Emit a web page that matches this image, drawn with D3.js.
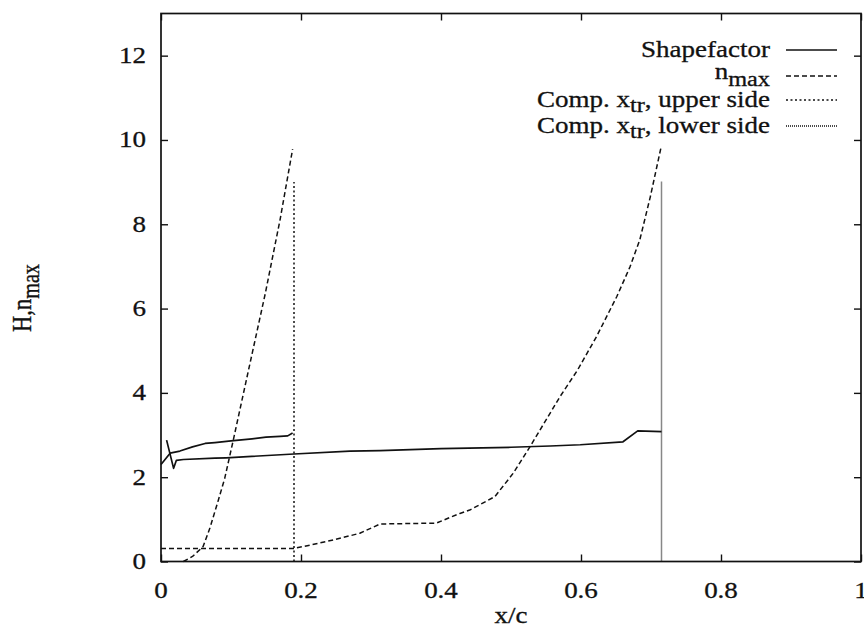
<!DOCTYPE html>
<html>
<head>
<meta charset="utf-8">
<script src="https://cdn.jsdelivr.net/npm/d3@7/dist/d3.min.js"></script>
<style>
  html, body { margin: 0; padding: 0; background: #fff; }
  svg { display: block; }
  text { font-family: "Liberation Serif", "Times New Roman", serif; fill: #111; stroke: #111; stroke-width: 0.3; }
</style>
</head>
<body>
<svg id="chart" width="864" height="627"></svg>
<script>
// ---------------- data ----------------
const xTicks = [0, 0.2, 0.4, 0.6, 0.8, 1];
const xTickLabels = ["0", "0.2", "0.4", "0.6", "0.8", "1"];
const yTicks = [0, 2, 4, 6, 8, 10, 12];
const yTickLabels = ["0", "2", "4", "6", "8", "10", "12"];

// Shape factor H, upper side (ends at upper transition)
const shapeUpperX = [0, 0.013, 0.027, 0.045, 0.063, 0.077, 0.100, 0.130, 0.150, 0.170, 0.181, 0.188];
const shapeUpperY = [2.30, 2.57, 2.62, 2.72, 2.80, 2.82, 2.86, 2.91, 2.95, 2.97, 2.98, 3.05];
// Shape factor H, lower side
const shapeLowerX = [0.008, 0.018, 0.022, 0.032, 0.077, 0.093, 0.190, 0.270, 0.313, 0.400, 0.500, 0.556, 0.599, 0.660, 0.681, 0.715];
const shapeLowerY = [2.88, 2.21, 2.40, 2.42, 2.45, 2.46, 2.55, 2.62, 2.63, 2.68, 2.71, 2.74, 2.77, 2.84, 3.10, 3.08];
// n_max, upper side
const nmaxUpperX = [0.032, 0.045, 0.060, 0.070, 0.082, 0.091, 0.103, 0.122, 0.149, 0.170, 0.188];
const nmaxUpperY = [0.00, 0.12, 0.35, 0.80, 1.46, 1.97, 2.86, 4.31, 6.36, 8.10, 9.78];
// n_max, lower side
const nmaxLowerX = [0, 0.190, 0.205, 0.246, 0.284, 0.313, 0.393, 0.427, 0.441, 0.477, 0.503, 0.527, 0.570, 0.595, 0.622, 0.651, 0.670, 0.684, 0.699, 0.714];
const nmaxLowerY = [0.31, 0.31, 0.36, 0.51, 0.67, 0.89, 0.91, 1.14, 1.22, 1.54, 2.09, 2.72, 3.91, 4.54, 5.33, 6.28, 6.99, 7.63, 8.65, 9.80];
// computed transition locations
const transUpperX = [0.19, 0.19];
const transUpperY = [0, 9.0];
const transLowerX = [0.715, 0.715];
const transLowerY = [0, 9.02];

const legendLabels = ["Shapefactor", "n_max", "Comp. x_tr, upper side", "Comp. x_tr, lower side"];

// ---------------- layout ----------------
const L = 161, R = 861, T = 13.5, B = 561.5;
const FS = 22.5, SX = 1.2, SUB = 0.9; // font size, horizontal stretch of the scanned text, subscript size

const svg = d3.select("#chart");
const x = d3.scaleLinear().domain([0, 1]).range([L, R]);
const y = d3.scaleLinear().domain([0, 13]).range([B, T]);

const zip = (xs, ys) => xs.map((v, i) => [v, ys[i]]);
const line = d3.line().x(d => x(d[0])).y(d => y(d[1]));

// axes (inward ticks, mirrored)
const tick = 7;
const gx = svg.append("g").attr("transform", `translate(0,${B})`)
  .call(d3.axisBottom(x).tickValues(xTicks).tickSizeInner(-tick).tickSizeOuter(0).tickFormat(""));
const gxt = svg.append("g").attr("transform", `translate(0,${T})`)
  .call(d3.axisTop(x).tickValues(xTicks).tickSizeInner(-tick).tickSizeOuter(0).tickFormat(""));
const gy = svg.append("g").attr("transform", `translate(${L},0)`)
  .call(d3.axisLeft(y).tickValues(yTicks).tickSizeInner(-tick).tickSizeOuter(0).tickFormat(""));
const gyr = svg.append("g").attr("transform", `translate(${R},0)`)
  .call(d3.axisRight(y).tickValues(yTicks).tickSizeInner(-tick).tickSizeOuter(0).tickFormat(""));
[gx, gxt, gy, gyr].forEach(g => {
  g.select(".domain").remove();
  g.selectAll("line").attr("stroke", "#111").attr("stroke-width", 1.4);
});

// frame
svg.append("rect").attr("x", L).attr("y", T).attr("width", R - L).attr("height", B - T)
  .attr("fill", "none").attr("stroke", "#111").attr("stroke-width", 1.7);

// tick labels
svg.append("g").selectAll("text").data(xTicks).join("text")
  .attr("transform", d => `translate(${x(d)},${B + 36}) scale(${SX},1)`)
  .attr("text-anchor", "middle").attr("font-size", FS)
  .text((d, i) => xTickLabels[i]);
svg.append("g").selectAll("text").data(yTicks).join("text")
  .attr("transform", d => `translate(${L - 15},${y(d) + 7.5}) scale(${SX},1)`)
  .attr("text-anchor", "end").attr("font-size", FS)
  .text((d, i) => yTickLabels[i]);

// axis titles
svg.append("text")
  .attr("transform", `translate(${(L + R) / 2},${B + 61}) scale(${SX},1)`)
  .attr("text-anchor", "middle").attr("font-size", FS).text("x/c");
const yt = svg.append("text")
  .attr("transform", `translate(31,298) scale(${SX},1) rotate(-90)`)
  .attr("text-anchor", "middle").attr("font-size", FS);
yt.append("tspan").text("H,n");
yt.append("tspan").attr("font-size", FS * SUB).attr("dy", 7).text("max");

// series
const styles = [
  { dash: null, w: 1.7 },
  { dash: "5,3", w: 1.5 },
  { dash: "2,2.5", w: 1.5 },
  { dash: "1,1", w: 1.5 }
];
const plot = svg.append("g");
function draw(data, s) {
  plot.append("path").datum(data).attr("d", line)
    .attr("fill", "none").attr("stroke", "#111").attr("stroke-width", s.w)
    .attr("stroke-dasharray", s.dash).attr("stroke-linejoin", "round");
}
draw(zip(shapeUpperX, shapeUpperY), styles[0]);
draw(zip(shapeLowerX, shapeLowerY), styles[0]);
draw(zip(nmaxUpperX, nmaxUpperY), styles[1]);
draw(zip(nmaxLowerX, nmaxLowerY), styles[1]);
draw(zip(transUpperX, transUpperY), styles[2]);
draw(zip(transLowerX, transLowerY), styles[3]);

// legend
const legY = [50, 76, 100, 126];
const lg = svg.append("g");
legendLabels.forEach((lab, i) => {
  lg.append("line").attr("x1", 786).attr("x2", 837).attr("y1", legY[i]).attr("y2", legY[i])
    .attr("stroke", "#111").attr("stroke-width", styles[i].w).attr("stroke-dasharray", styles[i].dash);
  const t = lg.append("text")
    .attr("transform", `translate(770,${legY[i] + (i === 1 ? 3 : 7)}) scale(${SX},1)`)
    .attr("text-anchor", "end").attr("font-size", FS);
  if (i === 1) {
    t.append("tspan").text("n");
    t.append("tspan").attr("font-size", FS * SUB).attr("dy", 7).text("max");
  } else if (i >= 2) {
    const side = i === 2 ? "upper side" : "lower side";
    t.append("tspan").text("Comp. x");
    t.append("tspan").attr("font-size", FS * SUB).attr("dy", 5).text("tr");
    t.append("tspan").attr("dy", -5).text(", " + side);
  } else {
    t.text(lab);
  }
});
</script>
</body>
</html>
